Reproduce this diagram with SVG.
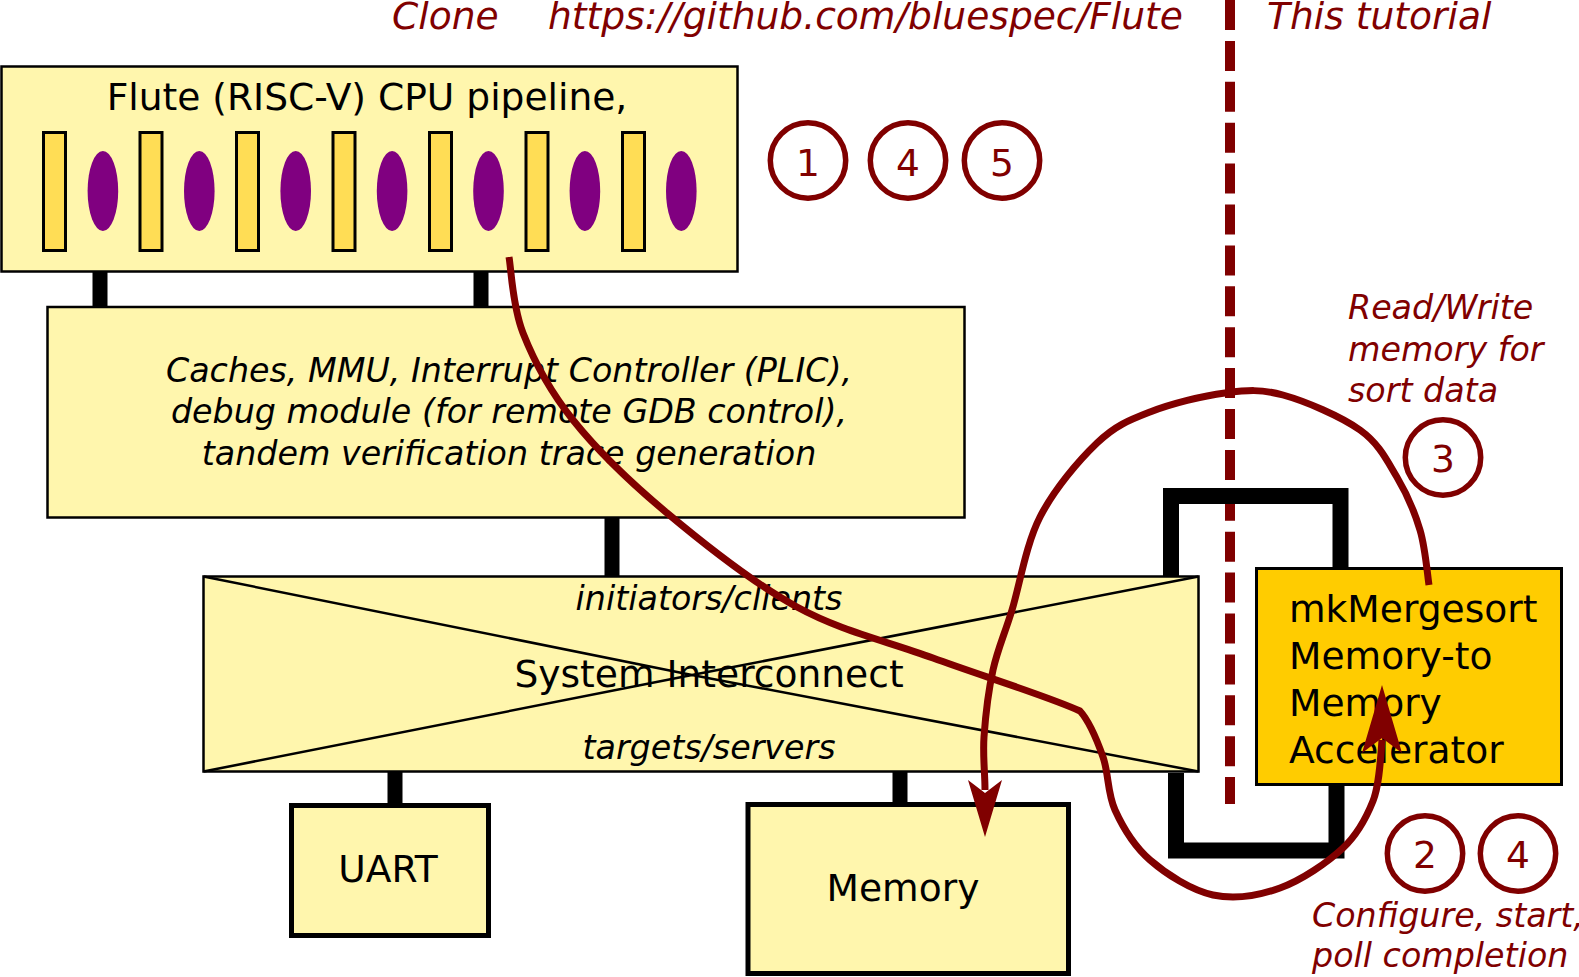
<svg xmlns="http://www.w3.org/2000/svg" width="1579" height="977" viewBox="0 0 1579 977">
<style>
text{font-family:"DejaVu Sans","Liberation Sans",sans-serif;fill:#000}
.big{font-size:37.6px}
.it{font-size:33.3px;font-style:italic}
.red{fill:#800000}
.box{fill:#fff6ad;stroke:#000;stroke-width:2.5}
.tbox{fill:#fff6ad;stroke:#000;stroke-width:5}
.stage{fill:#ffdd55;stroke:#000;stroke-width:3}
.latch{fill:#800080}
.bar{fill:#000}
.num{fill:none;stroke:#800000;stroke-width:5.5}
.flow{fill:none;stroke:#800000;stroke-width:7}
.head{fill:#800000}
.brk{fill:none;stroke:#000;stroke-width:16;stroke-linejoin:miter}
</style>

<g id="separator">
<line x1="1230" y1="0" x2="1230" y2="804" stroke="#800000" stroke-width="10" stroke-dasharray="30 10.9"/>
</g>

<g id="top-labels">
<text class="big red" x="392" y="29" font-style="italic">Clone</text>
<text class="big red" x="548" y="29" font-style="italic">https://github.com/bluespec/Flute</text>
<text class="big red" x="1267" y="29" font-style="italic">This tutorial</text>
</g>

<g id="cpu">
<rect x="1.5" y="66.5" width="736" height="205" class="box" stroke-width="3"/>
<text class="big" x="367" y="110" text-anchor="middle">Flute (RISC-V) CPU pipeline,</text>
<rect class="stage" x="43.5" y="132.5" width="22" height="118"/>
<rect class="stage" x="140" y="132.5" width="22" height="118"/>
<rect class="stage" x="236.5" y="132.5" width="22" height="118"/>
<rect class="stage" x="333" y="132.5" width="22" height="118"/>
<rect class="stage" x="429.5" y="132.5" width="22" height="118"/>
<rect class="stage" x="526" y="132.5" width="22" height="118"/>
<rect class="stage" x="622.5" y="132.5" width="22" height="118"/>
<ellipse class="latch" cx="102.9" cy="191" rx="15.3" ry="40"/>
<ellipse class="latch" cx="199.3" cy="191" rx="15.3" ry="40"/>
<ellipse class="latch" cx="295.7" cy="191" rx="15.3" ry="40"/>
<ellipse class="latch" cx="392.1" cy="191" rx="15.3" ry="40"/>
<ellipse class="latch" cx="488.5" cy="191" rx="15.3" ry="40"/>
<ellipse class="latch" cx="584.9" cy="191" rx="15.3" ry="40"/>
<ellipse class="latch" cx="681.3" cy="191" rx="15.3" ry="40"/>
</g>

<g id="caches">
<rect x="47.5" y="307" width="917" height="210.5" class="box"/>
<text class="it" x="509" y="381.5" text-anchor="middle">Caches, MMU, Interrupt Controller (PLIC),</text>
<text class="it" x="509" y="423" text-anchor="middle">debug module (for remote GDB control),</text>
<text class="it" x="509" y="464.5" text-anchor="middle">tandem verification trace generation</text>
</g>

<g id="interconnect">
<rect x="203.5" y="576.5" width="995" height="195" class="box"/>
<path d="M203.5,576.5 L692,675 L203.5,771.5 M1198.5,576.5 L692,675 L1198.5,771.5" fill="none" stroke="#000" stroke-width="2.5"/>
<text class="it" x="709" y="610" text-anchor="middle">initiators/clients</text>
<text class="big" x="709" y="686.5" text-anchor="middle">System Interconnect</text>
<text class="it" x="709" y="758.5" text-anchor="middle">targets/servers</text>
</g>

<g id="uart">
<rect x="291.5" y="805.5" width="197" height="130" class="tbox"/>
<text class="big" x="388" y="881.5" text-anchor="middle">UART</text>
</g>

<g id="memory">
<rect x="748" y="804.5" width="320.5" height="169" class="tbox"/>
<text class="big" x="903" y="900.5" text-anchor="middle">Memory</text>
</g>

<g id="accelerator">
<rect x="1256.5" y="568.5" width="305" height="216" fill="#ffcc00" stroke="#000" stroke-width="3"/>
<text class="big" x="1289" y="621.5">mkMergesort</text>
<text class="big" x="1289" y="668.5">Memory-to</text>
<text class="big" x="1289" y="715.5">Memory</text>
<text class="big" x="1289" y="762.5">Accelerator</text>
</g>

<g id="connectors">
<rect class="bar" x="92.5" y="272" width="15" height="35"/>
<rect class="bar" x="473.5" y="272" width="15" height="35"/>
<rect class="bar" x="604.5" y="517" width="15" height="60"/>
<rect class="bar" x="387.5" y="772" width="15" height="32"/>
<rect class="bar" x="892.5" y="772" width="15" height="32"/>
<path class="brk" d="M1171,576 V496 H1340.5 V567"/>
<path class="brk" d="M1176,773 V850.5 H1336.5 V786"/>
<path class="flow" d="M509,257 C511.3,269.7 512.3,305.8 523,333 C533.7,360.2 549,390 573,420 C597,450 629.7,481.8 667,513 C704.3,544.2 752.7,582.8 797,607 C841.3,631.2 885.8,640.7 933,658 C980.2,675.3 1050,697 1080,711 C1090,722 1097.2,740.5 1103,757 C1108.8,773.5 1107.2,792.8 1115,810 C1122.8,827.2 1133.7,845.8 1150,860 C1166.3,874.2 1191.3,890.3 1213,895 C1234.7,899.7 1258.3,895.8 1280,888 C1301.7,880.2 1327.5,862.5 1343,848 C1358.5,833.5 1366.5,817.3 1373,801 C1379.5,784.7 1380.5,758.5 1382,740"/>
<path class="head" d="M1382,685 L1402,753 L1382,738 L1362,753 Z"/>
<path class="flow" d="M1429,585 C1427.5,575.8 1425.4,548.1 1420,530 C1414.6,511.9 1406.7,493.4 1396.7,476.7 C1386.7,460 1379,443.6 1360,430 C1341,416.4 1305.5,401.2 1283,395 C1260.5,388.8 1247.2,390.2 1225,393 C1202.8,395.8 1171.3,403.7 1150,412 C1128.7,420.3 1115.3,425.5 1097,443 C1078.7,460.5 1054.2,489.2 1040,517 C1025.8,544.8 1019.8,584.5 1012,610 C1004.2,635.5 997.7,648.8 993,670 C988.3,691.2 985.3,718.7 984,737 C982.7,755.3 985,773 985,790"/>
<path class="head" d="M985,837 L1002,780 L985,793 L968,780 Z"/>
</g>

<g id="steps">
<circle class="num" cx="808" cy="160.5" r="37.7"/>
<text class="big red" x="808" y="175.5" text-anchor="middle">1</text>
<circle class="num" cx="908" cy="160.5" r="37.7"/>
<text class="big red" x="908" y="175.5" text-anchor="middle">4</text>
<circle class="num" cx="1002" cy="160.5" r="37.7"/>
<text class="big red" x="1002" y="175.5" text-anchor="middle">5</text>
<circle class="num" cx="1443" cy="457.5" r="37.7"/>
<text class="big red" x="1443" y="472" text-anchor="middle">3</text>
<circle class="num" cx="1425" cy="853.5" r="37.7"/>
<text class="big red" x="1425" y="868" text-anchor="middle">2</text>
<circle class="num" cx="1518" cy="853.5" r="37.7"/>
<text class="big red" x="1518" y="868" text-anchor="middle">4</text>
</g>

<g id="notes">
<text class="it red" x="1348" y="319">Read/Write</text>
<text class="it red" x="1348" y="361">memory for</text>
<text class="it red" x="1348" y="402">sort data</text>
<text class="it red" x="1312" y="927">Configure, start,</text>
<text class="it red" x="1312" y="967">poll completion</text>
</g>
</svg>
